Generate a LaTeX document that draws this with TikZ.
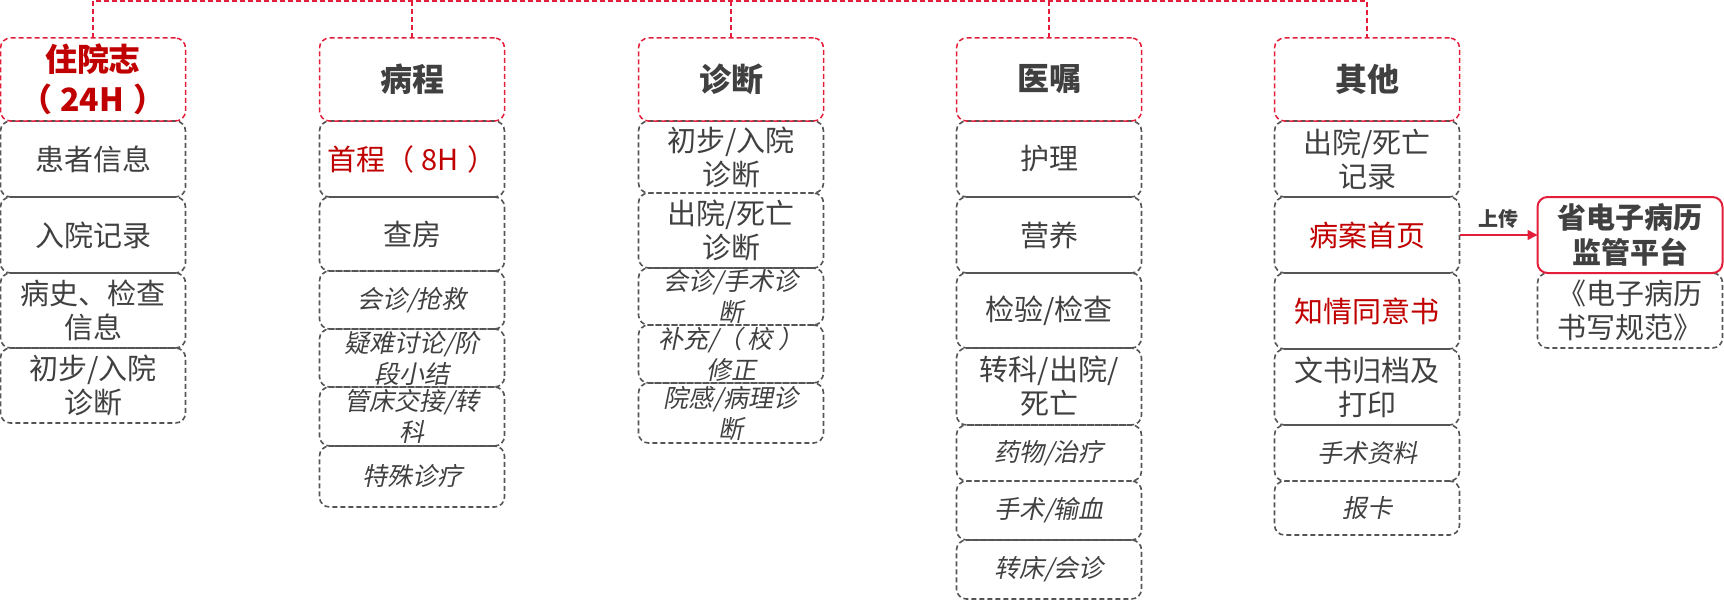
\documentclass[tikz,border=0pt]{standalone}
\usepackage{fontspec}
\usetikzlibrary{arrows.meta}
\newfontfamily\zhfont{Noto Sans CJK SC}
\newfontfamily\zhit{Noto Sans CJK SC}[FakeSlant=0.2]
\definecolor{hred}{RGB}{226,30,58}
\definecolor{dred}{RGB}{192,0,0}
\definecolor{sgray}{RGB}{85,85,85}
\definecolor{tgray}{RGB}{64,64,64}
\tikzset{
  hdr/.style={draw=hred, dash pattern=on 5pt off 3pt, line width=1.5pt, rounded corners=10pt, inner sep=0pt, outer sep=0pt},
  sub/.style={draw=sgray, dash pattern=on 5pt off 3pt, line width=1.6pt, rounded corners=10pt, inner sep=0pt, outer sep=0pt},
  solidr/.style={draw=hred, line width=2pt, rounded corners=10pt, inner sep=0pt, outer sep=0pt},
  htxt/.style={font=\zhfont\bfseries\fontsize{32}{40}\selectfont, text=tgray, align=center, inner sep=0pt},
  hredtxt/.style={htxt, text=dred},
  ntxt/.style={font=\zhfont\fontsize{29}{34}\selectfont, text=tgray, align=center, inner sep=0pt},
  nredtxt/.style={ntxt, text=dred},
  itxt/.style={font=\zhit\fontsize{25}{31}\selectfont, text=tgray, align=center, inner sep=0pt},
  btxt/.style={font=\zhfont\bfseries\fontsize{29}{35}\selectfont, text=tgray, align=center, inner sep=0pt},
  hline/.style={draw=hred, dash pattern=on 5pt off 3pt, line width=1.5pt},
}
% name, center x, top y, height, box style, text style, text
\newcommand{\cellbox}[7]{%
  \node[#5, minimum width=185pt, minimum height=#4pt, anchor=north] (#1) at (#2,#3) {};
  \node[#6] (#1t) at (#1.center) {#7};
}
\begin{document}
\begin{tikzpicture}[x=1pt, y=-1pt]
\useasboundingbox (0,0) rectangle (1724,602);
% column 1
\cellbox{a2}{93}{121}{76}{sub}{ntxt}{患者信息}
\cellbox{a3}{93}{197}{76}{sub}{ntxt}{入院记录}
\cellbox{a4}{93}{273}{75}{sub}{ntxt}{病史、检查\\信息}
\cellbox{a5}{93}{348}{75}{sub}{ntxt}{初步/入院\\诊断}
\cellbox{h1}{93}{38}{83}{hdr}{hredtxt}{住院志\\（\hspace{8pt}24H\hspace{10pt}）}
% column 2
\cellbox{b2}{412}{121}{76}{sub}{nredtxt}{首程（\hspace{7pt}8H\hspace{9pt}）}
\cellbox{b3}{412}{197}{74}{sub}{ntxt}{查房}
\cellbox{b4}{412}{271}{58}{sub}{itxt}{会诊/抢救}
\cellbox{b5}{412}{329}{58}{sub}{itxt}{疑难讨论/阶\\段小结}
\cellbox{b6}{412}{387}{59}{sub}{itxt}{管床交接/转\\科}
\cellbox{b7}{412}{446}{61}{sub}{itxt}{特殊诊疗}
\cellbox{h2}{412}{38}{83}{hdr}{htxt}{病程}
% column 3
\cellbox{c2}{731}{121}{72}{sub}{ntxt}{初步/入院\\诊断}
\cellbox{c3}{731}{193}{75}{sub}{ntxt}{出院/死亡\\诊断}
\cellbox{c4}{731}{268}{57}{sub}{itxt}{会诊/手术诊\\断}
\cellbox{c5}{731}{325}{58}{sub}{itxt}{补充/（\hspace{5pt}校\hspace{6pt}）\\修正}
\cellbox{c6}{731}{383}{60}{sub}{itxt}{院感/病理诊\\断}
\cellbox{h3}{731}{38}{83}{hdr}{htxt}{诊断}
% column 4
\cellbox{d2}{1049}{121}{76}{sub}{ntxt}{护理}
\cellbox{d3}{1049}{197}{76}{sub}{ntxt}{营养}
\cellbox{d4}{1049}{273}{75}{sub}{ntxt}{检验/检查}
\cellbox{d5}{1049}{348}{77}{sub}{ntxt}{转科/出院/\\死亡}
\cellbox{d6}{1049}{425}{56}{sub}{itxt}{药物/治疗}
\cellbox{d7}{1049}{481}{59}{sub}{itxt}{手术/输血}
\cellbox{d8}{1049}{540}{59}{sub}{itxt}{转床/会诊}
\cellbox{h4}{1049}{38}{83}{hdr}{htxt}{医嘱}
% column 5
\cellbox{e2}{1367}{121}{76}{sub}{ntxt}{出院/死亡\\记录}
\cellbox{e3}{1367}{197}{76}{sub}{nredtxt}{病案首页}
\cellbox{e4}{1367}{273}{76}{sub}{nredtxt}{知情同意书}
\cellbox{e5}{1367}{349}{76}{sub}{ntxt}{文书归档及\\打印}
\cellbox{e6}{1367}{425}{56}{sub}{itxt}{手术资料}
\cellbox{e7}{1367}{481}{54}{sub}{itxt}{报卡}
\cellbox{h5}{1367}{38}{83}{hdr}{htxt}{其他}
% right
\cellbox{r2}{1630}{273}{75}{sub}{ntxt}{《电子病历\\书写规范》}
\cellbox{r1}{1630}{197}{76}{solidr, fill=white}{btxt}{省电子病历\\监管平台}
% top bus
\coordinate (bus) at (0,1);
\draw[hline] (h1.north) -- (h1.north |- bus) -- (h5.north |- bus) -- (h5.north);
\foreach \n in {h2,h3,h4} \draw[hline] (\n.north) -- (\n.north |- bus);
% upload arrow
\draw[draw=hred, line width=1.5pt, -{Triangle[length=10pt,width=10pt]}] (e3.east) -- node[above=6pt, font=\zhfont\bfseries\fontsize{20}{24}\selectfont, text=tgray, inner sep=0pt] (up) {上传} (r1.west);
\end{tikzpicture}
\end{document}
